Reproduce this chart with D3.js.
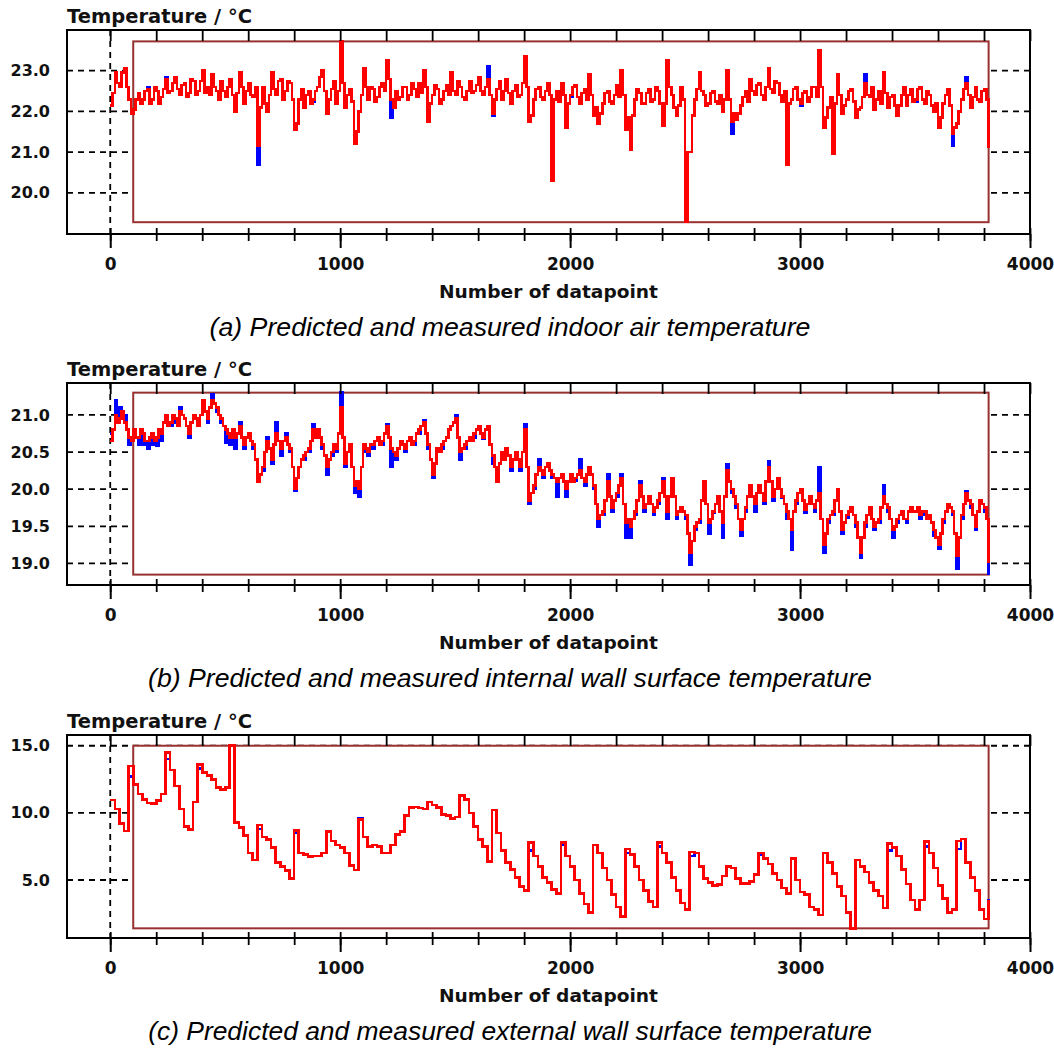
<!DOCTYPE html>
<html>
<head>
<meta charset="utf-8">
<script src="https://cdn.jsdelivr.net/npm/d3@7"></script>
<style>
  body { margin: 0; background: #fff; }
  svg { display: block; }
</style>
</head>
<body>
<svg id="chart" width="1054" height="1050" viewBox="0 0 1054 1050"></svg>
<script>
// values; air and inner wall every 10 datapoints, outer wall every 20
const boxStart = 100;
const xTicks = [0, 1000, 2000, 3000, 4000];
const xMinorTicks = d3.range(0, 4001, 200);

const indoorStep = 10;
const indoorTicks = [20, 21, 22, 23];
const indoorMeasured = [
  22.15, 22.45, 22.95, 22.7, 22.6, 22.95, 23.05, 22.6, 22.3, 21.95, 22.05, 22.3, 22.45, 22.2, 22.3, 22.5, 22.55, 22.2, 22.3, 22.6,
  22.5, 22.2, 22.35, 22.55, 22.8, 22.45, 22.5, 22.7, 22.85, 22.55, 22.4, 22.65, 22.7, 22.35, 22.45, 22.8, 22.75, 22.4, 22.5, 22.75,
  23.0, 22.45, 22.6, 22.4, 22.9, 22.6, 22.5, 22.3, 22.75, 22.5, 22.35, 22.6, 22.8, 22.4, 22.0, 22.45, 22.95, 22.6, 22.2, 22.5,
  22.7, 22.4, 22.35, 22.6, 21.15, 22.1, 22.6, 22.2, 22.0, 22.4, 22.95, 22.55, 22.4, 22.75, 22.8, 22.3, 22.5, 22.75, 22.7, 22.3,
  21.55, 21.7, 22.3, 22.55, 22.1, 22.4, 22.5, 22.2, 22.3, 22.5, 22.6, 22.85, 23.0, 22.5, 21.95, 22.3, 22.55, 22.75, 22.2, 22.5,
  23.72, 22.7, 22.1, 22.4, 22.55, 22.25, 21.2, 21.5, 22.0, 22.4, 23.05, 22.6, 22.3, 22.6, 22.55, 22.25, 22.35, 22.6, 22.7, 22.5,
  23.25, 22.8, 22.3, 22.1, 22.5, 22.3, 22.35, 22.6, 22.6, 22.3, 22.4, 22.7, 22.55, 22.35, 22.7, 22.45, 23.0, 22.6, 21.75, 22.2,
  22.4, 22.65, 22.55, 22.2, 22.3, 22.5, 22.65, 22.4, 22.95, 22.5, 22.4, 22.75, 22.6, 22.35, 22.3, 22.5, 22.75, 22.45, 22.5, 22.65,
  22.85, 22.5, 22.4, 22.6, 22.8, 22.4, 21.95, 22.3, 22.55, 22.75, 22.3, 22.5, 22.8, 22.45, 22.2, 22.5, 22.65, 22.35, 22.4, 22.7,
  23.35, 22.6, 21.75, 21.9, 22.3, 22.55, 22.6, 22.35, 22.3, 22.5, 22.7, 22.4, 20.3, 22.3, 22.5, 22.25, 22.7, 22.4, 21.6, 22.2,
  22.4, 22.6, 22.65, 22.35, 22.2, 22.45, 22.55, 22.3, 22.9, 22.4, 21.9, 22.1, 21.7, 21.95, 22.2, 22.45, 22.5, 22.25, 22.2, 22.4,
  22.65, 22.35, 23.0, 22.4, 21.55, 21.85, 21.05, 21.9, 22.3, 22.55, 22.45, 22.2, 22.2, 22.45, 22.55, 22.25, 22.3, 22.6, 22.5, 22.2,
  21.65, 22.2, 23.25, 22.6, 22.4, 22.1, 21.9, 22.15, 22.6, 22.3, 19.28, 21.0, 21.0, 21.9, 22.3, 22.55, 22.95, 22.5, 22.4, 22.15,
  22.2, 22.45, 22.5, 22.25, 22.2, 22.4, 22.0, 22.3, 23.0, 22.3, 21.75, 21.95, 21.8, 21.95, 22.15, 22.35, 22.5, 22.25, 22.8, 22.5,
  22.4, 22.65, 22.7, 22.4, 22.3, 22.6, 23.05, 22.55, 22.45, 22.75, 22.7, 22.4, 22.25, 22.5, 20.7, 22.2, 22.3, 22.55, 22.6, 22.3,
  22.2, 22.45, 22.5, 22.25, 22.35, 22.6, 22.6, 22.35, 23.5, 22.6, 21.6, 21.85, 22.1, 22.35, 20.95, 22.2, 22.9, 22.4, 21.95, 22.15,
  22.3, 22.5, 22.55, 22.25, 21.85, 22.05, 22.1, 22.35, 22.7, 22.4, 22.35, 22.6, 22.05, 22.3, 22.5, 22.2, 22.95, 22.45, 22.1, 22.35,
  22.4, 22.15, 21.9, 22.15, 22.4, 22.6, 22.15, 22.4, 22.55, 22.25, 22.3, 22.55, 22.6, 22.3, 22.2, 22.5, 22.4, 22.15, 22.0, 22.2,
  21.6, 21.85, 22.2, 22.4, 22.55, 22.15, 21.45, 21.6, 21.7, 22.0, 22.3, 22.55, 22.7, 22.4, 22.1, 22.35, 22.6, 22.3, 22.25, 22.5,
  22.55, 22.3, 21.1
];
const indoorPredicted = [
  22.15, 22.45, 22.95, 22.7, 22.6, 22.95, 22.95, 22.6, 22.3, 21.95, 22.05, 22.3, 22.45, 22.2, 22.3, 22.5, 22.6, 22.2, 22.3, 22.6,
  22.5, 22.2, 22.35, 22.55, 22.85, 22.45, 22.5, 22.7, 22.85, 22.55, 22.4, 22.65, 22.7, 22.35, 22.45, 22.8, 22.75, 22.4, 22.5, 22.75,
  23.0, 22.45, 22.6, 22.4, 22.9, 22.6, 22.5, 22.3, 22.75, 22.5, 22.35, 22.6, 22.8, 22.4, 22.0, 22.45, 22.95, 22.6, 22.2, 22.5,
  22.7, 22.4, 22.35, 22.6, 20.7, 22.1, 22.6, 22.2, 22.0, 22.4, 22.95, 22.55, 22.4, 22.75, 22.8, 22.3, 22.5, 22.75, 22.7, 22.3,
  21.55, 21.7, 22.3, 22.55, 22.1, 22.4, 22.5, 22.2, 22.25, 22.5, 22.6, 22.85, 22.95, 22.5, 21.95, 22.3, 22.55, 22.75, 22.2, 22.5,
  23.72, 22.7, 22.1, 22.4, 22.55, 22.25, 21.2, 21.5, 22.0, 22.4, 23.05, 22.6, 22.3, 22.6, 22.55, 22.25, 22.35, 22.6, 22.7, 22.5,
  23.2, 22.8, 21.85, 22.1, 22.5, 22.3, 22.35, 22.6, 22.6, 22.3, 22.4, 22.7, 22.55, 22.35, 22.7, 22.45, 23.0, 22.6, 21.75, 22.2,
  22.4, 22.65, 22.55, 22.2, 22.3, 22.5, 22.65, 22.4, 22.95, 22.5, 22.4, 22.75, 22.6, 22.35, 22.3, 22.5, 22.75, 22.45, 22.5, 22.65,
  22.85, 22.5, 22.4, 22.6, 23.1, 22.4, 21.9, 22.3, 22.55, 22.75, 22.3, 22.5, 22.8, 22.45, 22.2, 22.5, 22.65, 22.35, 22.4, 22.7,
  23.3, 22.6, 21.75, 21.9, 22.3, 22.55, 22.6, 22.35, 22.3, 22.5, 22.7, 22.4, 20.3, 22.3, 22.5, 22.25, 22.7, 22.4, 21.6, 22.2,
  22.35, 22.6, 22.65, 22.35, 22.2, 22.45, 22.55, 22.3, 22.9, 22.4, 21.9, 22.1, 21.7, 21.95, 22.2, 22.45, 22.5, 22.25, 22.2, 22.4,
  22.65, 22.35, 23.0, 22.4, 21.55, 21.85, 21.05, 21.9, 22.3, 22.55, 22.45, 22.2, 22.2, 22.45, 22.55, 22.25, 22.3, 22.6, 22.5, 22.2,
  21.65, 22.2, 23.25, 22.6, 22.4, 22.1, 21.9, 22.15, 22.6, 22.3, 19.28, 21.0, 21.0, 21.9, 22.3, 22.55, 22.95, 22.5, 22.4, 22.15,
  22.2, 22.45, 22.5, 22.25, 22.2, 22.4, 22.0, 22.3, 23.0, 22.3, 21.45, 21.95, 21.8, 21.95, 22.15, 22.35, 22.5, 22.25, 22.8, 22.5,
  22.4, 22.65, 22.7, 22.4, 22.3, 22.6, 23.05, 22.55, 22.45, 22.75, 22.7, 22.4, 22.25, 22.5, 20.7, 22.2, 22.3, 22.55, 22.6, 22.3,
  22.15, 22.45, 22.5, 22.25, 22.35, 22.6, 22.6, 22.35, 23.5, 22.6, 21.6, 21.85, 22.1, 22.35, 20.95, 22.2, 22.9, 22.4, 21.95, 22.15,
  22.3, 22.5, 22.55, 22.25, 21.85, 22.05, 22.1, 22.35, 22.9, 22.4, 22.35, 22.6, 22.05, 22.3, 22.5, 22.2, 22.95, 22.45, 22.1, 22.35,
  22.4, 22.15, 21.9, 22.15, 22.4, 22.6, 22.15, 22.4, 22.55, 22.25, 22.25, 22.55, 22.6, 22.3, 22.2, 22.5, 22.4, 22.15, 22.0, 22.2,
  21.6, 21.85, 22.2, 22.4, 22.55, 22.15, 21.15, 21.6, 21.7, 22.0, 22.3, 22.55, 22.85, 22.4, 22.1, 22.35, 22.6, 22.3, 22.25, 22.5,
  22.55, 22.3, 21.1
];

const wallInStep = 10;
const wallInTicks = [19.0, 19.5, 20.0, 20.5, 21.0];
const wallInMeasured = [
  20.65, 20.8, 21.0, 20.9, 20.95, 21.05, 20.9, 20.8, 20.7, 20.65, 20.8, 20.7, 20.7, 20.8, 20.75, 20.65, 20.65, 20.7, 20.75, 20.65,
  20.7, 20.8, 20.75, 20.9, 21.0, 20.85, 20.9, 21.0, 20.95, 20.85, 21.05, 21.0, 20.95, 20.85, 20.75, 20.9, 21.0, 20.95, 20.85, 21.0,
  21.2, 21.05, 20.95, 21.1, 21.2, 21.15, 21.1, 21.0, 20.95, 20.85, 20.8, 20.75, 20.7, 20.8, 20.7, 20.75, 20.85, 20.7, 20.6, 20.7,
  20.75, 20.65, 20.6, 20.4, 20.1, 20.2, 20.3, 20.5, 20.65, 20.55, 20.4, 20.6, 20.75, 20.65, 20.55, 20.65, 20.7, 20.6, 20.55, 20.3,
  20.0, 20.15, 20.3, 20.4, 20.45, 20.5, 20.55, 20.65, 20.8, 20.7, 20.8, 20.7, 20.6, 20.45, 20.3, 20.4, 20.5, 20.6, 20.55, 20.75,
  21.1, 20.7, 20.35, 20.5, 20.6, 20.3, 20.05, 20.1, 20.0, 20.3, 20.6, 20.55, 20.5, 20.6, 20.6, 20.65, 20.7, 20.6, 20.65, 20.75,
  20.85, 20.7, 20.55, 20.5, 20.45, 20.55, 20.65, 20.6, 20.55, 20.65, 20.7, 20.6, 20.65, 20.75, 20.8, 20.85, 20.9, 20.75, 20.6, 20.4,
  20.2, 20.35, 20.55, 20.5, 20.6, 20.65, 20.7, 20.8, 20.85, 20.9, 20.95, 20.7, 20.5, 20.55, 20.6, 20.65, 20.7, 20.65, 20.75, 20.8,
  20.85, 20.75, 20.7, 20.8, 20.85, 20.6, 20.45, 20.3, 20.1, 20.35, 20.5, 20.4, 20.55, 20.45, 20.3, 20.4, 20.5, 20.4, 20.3, 20.5,
  20.8, 20.3, 19.85, 19.95, 20.05, 20.2, 20.3, 20.25, 20.2, 20.3, 20.35, 20.25, 20.2, 20.15, 20.1, 20.15, 20.2, 20.1, 20.0, 20.1,
  20.2, 20.1, 20.15, 20.2, 20.25, 20.15, 20.1, 20.2, 20.3, 20.2, 20.05, 19.8, 19.6, 19.65, 19.7, 19.85, 20.1, 19.9, 19.75, 19.85,
  19.95, 20.05, 20.15, 19.8, 19.55, 19.6, 19.5, 19.6, 19.7, 19.85, 20.05, 19.9, 19.75, 19.8, 19.9, 19.8, 19.7, 19.75, 19.85, 19.95,
  20.1, 19.9, 19.7, 19.9, 20.15, 19.9, 19.65, 19.7, 19.75, 19.7, 19.65, 19.4, 19.15, 19.3, 19.5, 19.55, 19.6, 19.85, 20.1, 19.8,
  19.55, 19.6, 19.7, 19.8, 19.9, 19.7, 19.55, 19.9, 20.25, 20.1, 20.0, 19.9, 19.8, 19.6, 19.45, 19.6, 19.75, 19.9, 20.05, 19.9,
  19.8, 19.95, 20.05, 19.95, 19.85, 20.1, 20.3, 20.1, 19.9, 20.0, 20.15, 20.0, 19.9, 19.8, 19.7, 19.6, 19.45, 19.7, 19.85, 19.95,
  20.0, 19.85, 19.72, 19.8, 19.9, 19.8, 19.75, 19.85, 19.95, 19.6, 19.25, 19.4, 19.6, 19.65, 19.7, 19.85, 20.0, 19.7, 19.45, 19.55,
  19.65, 19.7, 19.75, 19.65, 19.55, 19.35, 19.15, 19.35, 19.55, 19.65, 19.75, 19.6, 19.5, 19.55, 19.6, 19.75, 19.9, 19.8, 19.75, 19.6,
  19.45, 19.5, 19.6, 19.65, 19.7, 19.6, 19.6, 19.7, 19.75, 19.7, 19.7, 19.75, 19.65, 19.7, 19.7, 19.6, 19.65, 19.55, 19.45, 19.35,
  19.25, 19.4, 19.6, 19.7, 19.8, 19.75, 19.7, 19.4, 19.1, 19.35, 19.65, 19.8, 19.95, 19.85, 19.8, 19.65, 19.5, 19.7, 19.85, 19.8,
  19.75, 19.6, 19.0
];
const wallInPredicted = [
  20.75, 20.8, 21.2, 20.9, 21.1, 21.05, 21.0, 20.8, 20.6, 20.65, 20.75, 20.7, 20.6, 20.8, 20.6, 20.65, 20.55, 20.7, 20.6, 20.65,
  20.58, 20.8, 20.65, 20.9, 20.95, 20.85, 20.85, 21.0, 20.9, 20.85, 21.1, 21.0, 20.95, 20.85, 20.7, 20.9, 21.0, 20.95, 20.85, 21.0,
  21.15, 21.05, 20.9, 21.1, 21.28, 21.15, 21.05, 21.0, 20.9, 20.85, 20.62, 20.75, 20.6, 20.8, 20.55, 20.75, 20.9, 20.7, 20.55, 20.7,
  20.7, 20.65, 20.55, 20.4, 20.1, 20.2, 20.25, 20.5, 20.7, 20.55, 20.35, 20.6, 20.9, 20.65, 20.45, 20.65, 20.75, 20.6, 20.5, 20.3,
  19.98, 20.15, 20.3, 20.4, 20.4, 20.5, 20.5, 20.65, 20.88, 20.7, 20.75, 20.7, 20.55, 20.45, 20.2, 20.4, 20.45, 20.6, 20.5, 20.75,
  21.3, 20.7, 20.3, 20.5, 20.6, 20.3, 19.95, 20.1, 19.9, 20.3, 20.5, 20.55, 20.45, 20.6, 20.55, 20.65, 20.7, 20.6, 20.6, 20.75,
  20.88, 20.7, 20.3, 20.5, 20.4, 20.55, 20.6, 20.6, 20.5, 20.65, 20.7, 20.6, 20.6, 20.75, 20.75, 20.85, 20.93, 20.75, 20.55, 20.4,
  20.15, 20.35, 20.5, 20.5, 20.55, 20.65, 20.7, 20.8, 20.85, 20.9, 21.0, 20.7, 20.4, 20.55, 20.55, 20.65, 20.68, 20.65, 20.7, 20.8,
  20.85, 20.75, 20.68, 20.8, 20.83, 20.6, 20.35, 20.3, 20.2, 20.35, 20.45, 20.4, 20.5, 20.45, 20.25, 20.4, 20.45, 20.4, 20.25, 20.5,
  20.87, 20.3, 19.8, 19.95, 20.0, 20.2, 20.4, 20.25, 20.15, 20.3, 20.3, 20.25, 20.15, 20.15, 19.9, 20.15, 20.15, 20.1, 19.9, 20.1,
  20.15, 20.1, 20.12, 20.2, 20.4, 20.15, 20.05, 20.2, 20.3, 20.2, 20.0, 19.8, 19.5, 19.65, 19.65, 19.85, 20.2, 19.9, 19.7, 19.85,
  19.9, 20.05, 20.2, 19.8, 19.35, 19.6, 19.35, 19.6, 19.65, 19.85, 20.1, 19.9, 19.7, 19.8, 19.85, 19.8, 19.65, 19.75, 19.8, 19.95,
  20.15, 19.9, 19.6, 19.9, 20.1, 19.9, 19.6, 19.7, 19.7, 19.7, 19.6, 19.4, 18.98, 19.3, 19.45, 19.55, 19.55, 19.85, 20.1, 19.8,
  19.4, 19.6, 19.68, 19.8, 19.9, 19.7, 19.35, 19.9, 20.33, 20.1, 19.95, 19.9, 19.75, 19.6, 19.38, 19.6, 19.7, 19.9, 20.05, 19.9,
  19.7, 19.95, 20.05, 19.95, 19.8, 20.1, 20.38, 20.1, 19.85, 20.0, 20.15, 20.0, 19.88, 19.8, 19.6, 19.6, 19.18, 19.7, 19.8, 19.95,
  19.98, 19.85, 19.68, 19.8, 19.85, 19.8, 19.7, 19.85, 20.3, 19.6, 19.15, 19.4, 19.55, 19.65, 19.65, 19.85, 19.95, 19.7, 19.4, 19.55,
  19.62, 19.7, 19.72, 19.65, 19.5, 19.35, 19.08, 19.35, 19.5, 19.65, 19.7, 19.6, 19.45, 19.55, 19.55, 19.75, 20.05, 19.8, 19.7, 19.6,
  19.35, 19.5, 19.55, 19.65, 19.65, 19.6, 19.55, 19.7, 19.75, 19.7, 19.7, 19.75, 19.6, 19.7, 19.65, 19.6, 19.6, 19.55, 19.38, 19.35,
  19.2, 19.4, 19.55, 19.7, 19.78, 19.75, 19.65, 19.4, 18.93, 19.35, 19.6, 19.8, 19.97, 19.85, 19.75, 19.65, 19.45, 19.7, 19.83, 19.8,
  19.7, 19.6, 18.85
];

const wallOutStep = 20;
const wallOutTicks = [5, 10, 15];
const wallOutMeasured = [
  10.95, 10.3, 9.2, 8.65, 13.5, 12.1, 11.4, 11.0, 10.75, 10.7,
  10.9, 11.4, 14.5, 13.2, 12.0, 10.3, 9.0, 8.75, 10.8, 13.6,
  13.0, 12.8, 12.5, 11.9, 11.75, 11.9, 15.0, 9.3, 8.9, 8.3,
  7.0, 6.5, 9.1, 8.2, 8.0, 7.4, 6.3, 6.0, 5.7, 5.1,
  8.7, 7.0, 6.9, 6.75, 6.8, 6.8, 7.0, 8.6, 7.9, 7.6,
  7.4, 7.0, 6.1, 5.75, 9.5, 8.2, 7.5, 7.6, 7.5, 7.0,
  7.0, 7.6, 8.4, 8.6, 9.8, 10.4, 10.45, 10.35, 10.3, 10.8,
  10.6, 10.4, 9.9, 9.8, 9.6, 9.7, 11.3, 11.0, 10.0, 9.0,
  8.0, 7.5, 6.4, 10.2, 8.5, 7.2, 6.3, 5.8, 5.2, 4.5,
  4.2, 7.8, 6.8, 6.0, 5.2, 4.8, 4.3, 4.0, 7.8, 6.8,
  6.0, 5.0, 4.0, 3.2, 2.6, 7.6, 7.0, 5.9, 5.0, 3.9,
  3.0, 2.3, 7.3, 6.9, 6.0, 5.0, 4.2, 3.4, 3.0, 7.8,
  7.0, 6.3, 5.2, 4.2, 3.3, 2.8, 7.1, 7.0, 6.0, 5.1,
  4.8, 4.6, 4.65, 5.3, 6.0, 5.9, 5.1, 4.75, 4.75, 4.9,
  5.4, 7.0, 6.6, 6.2, 5.5, 5.0, 4.4, 4.0, 6.6, 5.0,
  4.1, 3.9, 3.0, 2.8, 2.4, 7.0, 6.3, 5.5, 4.5, 3.8,
  2.6, 1.4, 6.5, 6.0, 5.6, 4.8, 4.2, 3.8, 2.9, 7.7,
  7.4, 6.8, 5.8, 4.7, 3.5, 2.8, 3.5, 7.85, 7.0, 5.9,
  4.6, 3.6, 2.6, 2.8, 7.9, 8.05, 6.3, 5.2, 4.2, 2.8,
  2.1, 3.5
];
const wallOutPredicted = [
  10.95, 10.3, 9.2, 8.65, 12.7, 12.1, 11.4, 11.0, 10.75, 10.7,
  10.9, 11.4, 14.0, 13.2, 12.0, 10.3, 9.0, 8.75, 10.8, 13.3,
  13.0, 12.8, 12.5, 11.9, 11.75, 11.9, 15.0, 9.3, 8.9, 8.3,
  7.0, 6.5, 8.8, 8.2, 8.0, 7.4, 6.3, 6.0, 5.7, 5.1,
  8.5, 7.0, 6.9, 6.75, 6.8, 6.8, 7.0, 8.6, 7.9, 7.6,
  7.4, 7.0, 6.1, 5.75, 9.6, 8.2, 7.5, 7.6, 7.5, 7.0,
  7.0, 7.6, 8.4, 8.6, 9.8, 10.4, 10.45, 10.35, 10.3, 10.8,
  10.6, 10.4, 9.9, 9.8, 9.6, 9.7, 11.3, 11.0, 10.0, 9.0,
  8.0, 7.5, 6.4, 10.2, 8.5, 7.2, 6.3, 5.8, 5.2, 4.5,
  4.2, 7.2, 6.8, 6.0, 5.2, 4.8, 4.3, 4.0, 7.6, 6.8,
  6.0, 5.0, 4.0, 3.2, 2.6, 7.6, 7.0, 5.9, 5.0, 3.9,
  3.0, 2.3, 7.0, 6.9, 6.0, 5.0, 4.2, 3.4, 3.0, 7.5,
  7.0, 6.3, 5.2, 4.2, 3.3, 2.8, 6.8, 7.0, 6.0, 5.1,
  4.8, 4.6, 4.65, 5.3, 6.0, 5.9, 5.1, 4.75, 4.75, 4.9,
  5.4, 6.9, 6.6, 6.2, 5.5, 5.0, 4.4, 4.0, 6.6, 5.0,
  4.1, 3.9, 3.0, 2.8, 2.4, 7.0, 6.3, 5.5, 4.5, 3.8,
  2.6, 1.4, 6.5, 6.0, 5.6, 4.8, 4.2, 3.8, 2.9, 7.2,
  7.4, 6.8, 5.8, 4.7, 3.5, 2.8, 3.5, 7.5, 7.0, 5.9,
  4.6, 3.6, 2.6, 2.8, 7.3, 8.05, 6.3, 5.2, 4.2, 2.8,
  2.1, 3.6
];

const captions = [
  '(a) Predicted and measured indoor air temperature',
  '(b) Predicted and measured internal wall surface temperature',
  '(c) Predicted and measured external wall surface temperature'
];

// layout of the three stacked panels
const panels = [
  { top: 30, bottom: 234, yDomain: [18.99, 24.0], ticks: indoorTicks, step: indoorStep,
    measured: indoorMeasured, predicted: indoorPredicted, caption: captions[0], capWidth: 601 },
  { top: 383, bottom: 585, yDomain: [18.71, 21.43], ticks: wallInTicks, step: wallInStep,
    measured: wallInMeasured, predicted: wallInPredicted, caption: captions[1], capWidth: 724 },
  { top: 735, bottom: 938, yDomain: [0.68, 15.8], ticks: wallOutTicks, step: wallOutStep,
    measured: wallOutMeasured, predicted: wallOutPredicted, caption: captions[2], capWidth: 724 }
];

const svg = d3.select('#chart');
const left = 67, right = 1030;
const x = d3.scaleLinear().domain([-188, 4000]).range([left, right]);
const boldFont = '"DejaVu Sans", Verdana, sans-serif';

function styleAxis(g, width) {
    g.select('.domain').remove();
    g.selectAll('.tick line').attr('stroke', '#000').attr('stroke-width', width);
}

// Stretch a text horizontally so that it spans the given width
function fitText(sel, cx, cy, width) {
    const natural = sel.node().getComputedTextLength();
    sel.attr('transform', `translate(${cx},${cy}) scale(${width / natural},1)`);
}

panels.forEach(p => {
    const g = svg.append('g');
    const y = d3.scaleLinear().domain(p.yDomain).range([p.bottom, p.top]);

    // Dashed grid lines (mostly hidden behind the white data box)
    g.append('g').selectAll('line')
        .data(p.ticks)
        .enter()
        .append('line')
        .attr('x1', left).attr('x2', right)
        .attr('y1', d => y(d)).attr('y2', d => y(d))
        .attr('stroke', '#000').attr('stroke-width', 1.8)
        .attr('stroke-dasharray', '6,5');
    g.append('g').selectAll('line')
        .data([0, 4000])
        .enter()
        .append('line')
        .attr('x1', d => x(d)).attr('x2', d => x(d))
        .attr('y1', p.top).attr('y2', p.bottom)
        .attr('stroke', '#000').attr('stroke-width', 1.8)
        .attr('stroke-dasharray', '6,5');

    // Data box
    const lastDp = (p.measured.length - 1) * p.step;
    const [lo, hi] = d3.extent(p.measured.concat(p.predicted));
    g.append('rect')
        .attr('x', x(boxStart)).attr('y', y(hi))
        .attr('width', x(lastDp) - x(boxStart))
        .attr('height', y(lo) - y(hi))
        .attr('fill', '#fff')
        .attr('stroke', '#993131').attr('stroke-width', 2);

    // Series: predicted (blue) below measured (red)
    const line = d3.line()
        .x((d, i) => x(i * p.step))
        .y(d => y(d))
        .curve(d3.curveStepAfter);
    g.append('path').datum(p.predicted)
        .attr('d', line).attr('fill', 'none')
        .attr('stroke', '#0000ff').attr('stroke-width', 2.6)
        .attr('shape-rendering', 'crispEdges');
    g.append('path').datum(p.measured)
        .attr('d', line).attr('fill', 'none')
        .attr('stroke', '#ff0000').attr('stroke-width', 2.6)
        .attr('shape-rendering', 'crispEdges');

    // Frame
    g.append('rect')
        .attr('x', left).attr('y', p.top)
        .attr('width', right - left).attr('height', p.bottom - p.top)
        .attr('fill', 'none').attr('stroke', '#000').attr('stroke-width', 2);

    // Ticks on top edge (inward) and bottom edge (both sides)
    g.append('g').attr('transform', `translate(0,${p.top})`)
        .call(d3.axisBottom(x).tickValues(xMinorTicks).tickSize(11).tickFormat(''))
        .call(a => styleAxis(a, 1.8));
    g.append('g').attr('transform', `translate(0,${p.bottom})`)
        .call(d3.axisTop(x).tickValues(xMinorTicks).tickSize(6).tickFormat(''))
        .call(a => styleAxis(a, 1.8));
    g.append('g').attr('transform', `translate(0,${p.bottom})`)
        .call(d3.axisBottom(x).tickValues(xMinorTicks).tickSize(7).tickFormat(''))
        .call(a => styleAxis(a, 1.8));
    const xAxis = g.append('g').attr('transform', `translate(0,${p.bottom})`)
        .call(d3.axisBottom(x).tickValues(xTicks).tickSize(14).tickPadding(10).tickFormat(d3.format('d')))
        .call(a => styleAxis(a, 2));
    xAxis.attr('font-family', boldFont).attr('font-size', 17).attr('font-weight', 'bold');
    xAxis.selectAll('text').attr('fill', '#111');

    // Y labels
    const yAxis = g.append('g').attr('transform', `translate(${left},0)`)
        .call(d3.axisLeft(y).tickValues(p.ticks).tickSize(0).tickPadding(17).tickFormat(d3.format('.1f')))
        .call(a => a.select('.domain').remove());
    yAxis.attr('font-family', boldFont).attr('font-size', 16).attr('font-weight', 'bold');
    yAxis.selectAll('text').attr('fill', '#111');

    // Titles and caption
    const yTitle = g.append('text')
        .attr('font-family', boldFont).attr('font-size', 19).attr('font-weight', 'bold')
        .attr('fill', '#111')
        .text('Temperature / °C');
    fitText(yTitle, left, p.top - 7, 185);

    const xTitle = g.append('text')
        .attr('text-anchor', 'middle')
        .attr('font-family', boldFont).attr('font-size', 18).attr('font-weight', 'bold')
        .attr('fill', '#111')
        .text('Number of datapoint');
    fitText(xTitle, (left + right) / 2, p.bottom + 64, 219);

    const cap = g.append('text')
        .attr('text-anchor', 'middle')
        .attr('font-family', '"Liberation Sans", Arial, sans-serif')
        .attr('font-size', 26).attr('font-style', 'italic')
        .attr('fill', '#000')
        .text(p.caption);
    fitText(cap, 510, p.bottom + 102, p.capWidth);
});
</script>
</body>
</html>
